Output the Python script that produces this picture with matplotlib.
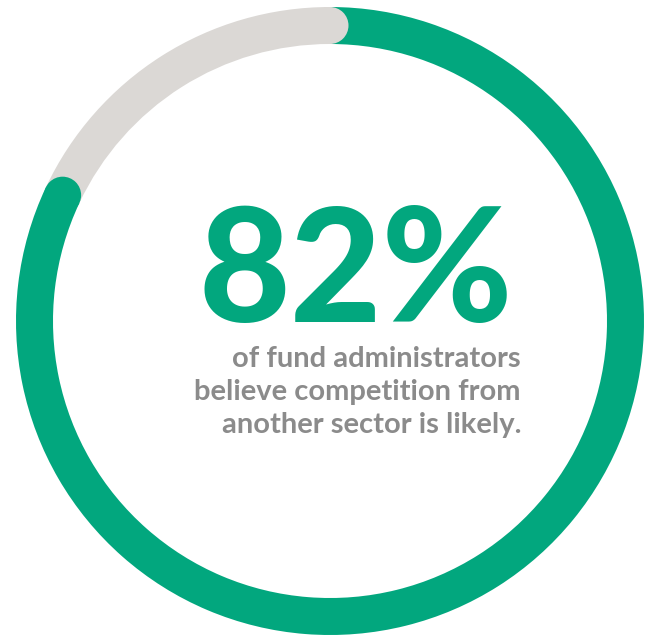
import numpy as np
import matplotlib.pyplot as plt
from matplotlib.patches import Wedge, Circle

share = 82                      # percent shown in green
headline = f"{share}%"
caption = ["of fund administrators",
           "believe competition from",
           "another sector is likely."]

green = "#02a77e"
grey = "#dbd8d5"
text_grey = "#8b8b8b"

W, H = 654, 639
fig = plt.figure(figsize=(W / 100, H / 100), dpi=100)
ax = fig.add_axes([0, 0, 1, 1])
ax.set_xlim(0, W)
ax.set_ylim(0, H)
ax.set_aspect("equal")
ax.axis("off")

# ring geometry in pixels
cx, cy = 330, H - 321
r_out, band = 314, 37
r_mid = r_out - band / 2

start = 90                       # 12 o'clock, running clockwise
end = start + 360 * (100 - share) / 100


def on_ring(a):
    t = np.radians(a)
    return cx + r_mid * np.cos(t), cy + r_mid * np.sin(t)


# green part clockwise from the top, grey remainder, rounded ends
ax.add_patch(Wedge((cx, cy), r_out, end, start + 360, width=band, color=green, lw=0))
ax.add_patch(Wedge((cx, cy), r_out, start, end, width=band, color=grey, lw=0))
ax.add_patch(Circle(on_ring(start), band / 2, color=grey, lw=0))
ax.add_patch(Circle(on_ring(end), band / 2, color=green, lw=0))

ax.text(356, H - 322, headline, ha="center", va="baseline",
        fontsize=114, fontweight="black", family="Lato", color=green)

for i, line in enumerate(caption):
    ax.text(521, H - (367 + 33 * i), line, ha="right", va="baseline",
            fontsize=21, fontweight="bold", family="Lato", color=text_grey)

fig.savefig("out.png", dpi=100)
